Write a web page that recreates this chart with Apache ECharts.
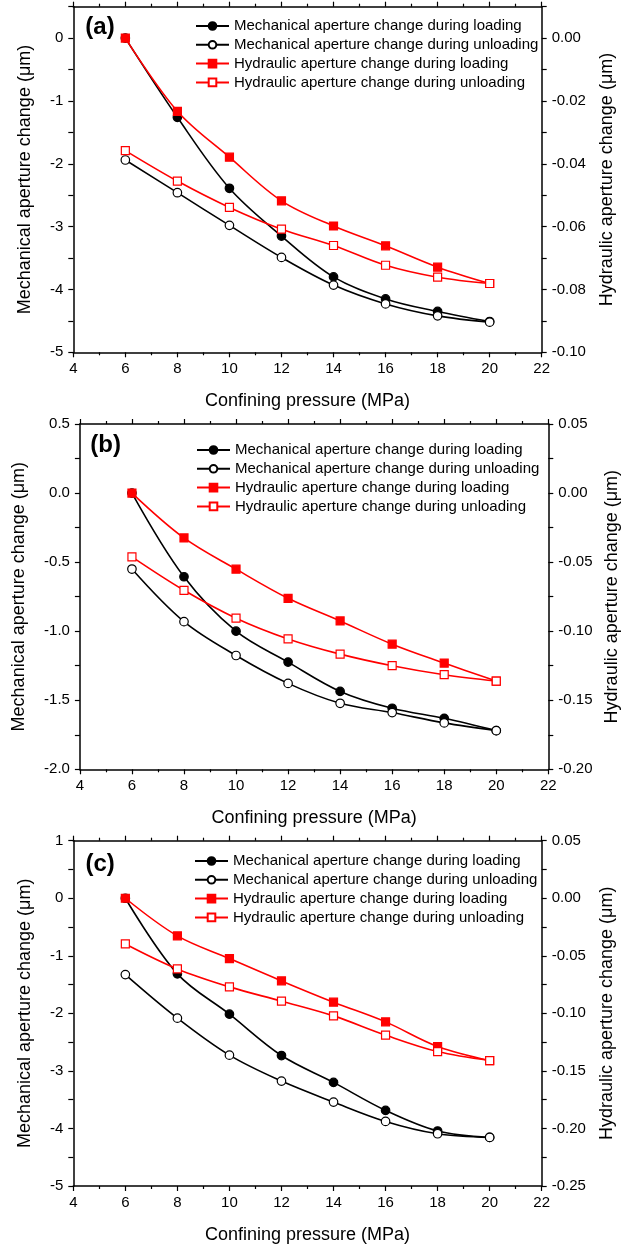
<!DOCTYPE html>
<html>
<head>
<meta charset="utf-8">
<script src="https://cdn.jsdelivr.net/npm/echarts@6/dist/echarts.min.js"></script>
<style>
html,body{margin:0;padding:0;background:#fff;}
#chart{width:632px;height:1247px;}
</style>
</head>
<body>
<div id="chart"></div>
<script>
const pressure = [6, 8, 10, 12, 14, 16, 18, 20];
const seriesNames = [
  'Mechanical aperture change during loading',
  'Mechanical aperture change during unloading',
  'Hydraulic aperture change during loading',
  'Hydraulic aperture change during unloading'
];
const xTitle = 'Confining pressure (MPa)';
const yLeftTitle = 'Mechanical aperture change (\u03bcm)';
const yRightTitle = 'Hydraulic aperture change (\u03bcm)';
const panelLabels = ['(a)', '(b)', '(c)'];

// panel (a)
const mechLoadA   = [0, -1.26, -2.39, -3.15, -3.80, -4.15, -4.35, -4.51];
const mechUnloadA = [-1.94, -2.46, -2.98, -3.49, -3.93, -4.23, -4.42, -4.52];
const hydLoadA    = [0, -0.0233, -0.0379, -0.0518, -0.0598, -0.0661, -0.0729, -0.0781];
const hydUnloadA  = [-0.0358, -0.0455, -0.0539, -0.0608, -0.0660, -0.0723, -0.0761, -0.0781];
// panel (b)
const mechLoadB   = [0, -0.606, -1.00, -1.224, -1.436, -1.558, -1.631, -1.72];
const mechUnloadB = [-0.55, -0.931, -1.176, -1.378, -1.522, -1.589, -1.664, -1.72];
const hydLoadB    = [0, -0.0325, -0.0551, -0.0762, -0.0926, -0.1094, -0.1231, -0.1361];
const hydUnloadB  = [-0.0462, -0.0704, -0.0906, -0.1056, -0.1166, -0.1250, -0.1315, -0.1361];
// panel (c)
const mechLoadC   = [0, -1.314, -2.014, -2.733, -3.20, -3.687, -4.045, -4.156];
const mechUnloadC = [-1.326, -2.083, -2.726, -3.177, -3.542, -3.878, -4.092, -4.156];
const hydLoadC    = [0, -0.0327, -0.0524, -0.0718, -0.0903, -0.1074, -0.1288, -0.141];
const hydUnloadC  = [-0.0397, -0.0614, -0.0770, -0.0894, -0.1022, -0.1189, -0.1332, -0.141];

// axis ranges per panel
const leftAxes = [
  {min: -5, max: 0.5, interval: 0.5, labelStep: 1, decimals: 0},
  {min: -2, max: 0.5, interval: 0.25, labelStep: 0.5, decimals: 1},
  {min: -5, max: 1, interval: 0.5, labelStep: 1, decimals: 0}
];
const rightAxes = [
  {min: -0.10, max: 0.01, interval: 0.01, labelStep: 0.02, decimals: 2},
  {min: -0.20, max: 0.05, interval: 0.025, labelStep: 0.05, decimals: 2},
  {min: -0.25, max: 0.05, interval: 0.025, labelStep: 0.05, decimals: 2}
];

const panelData = [
  [mechLoadA, mechUnloadA, hydLoadA, hydUnloadA],
  [mechLoadB, mechUnloadB, hydLoadB, hydUnloadB],
  [mechLoadC, mechUnloadC, hydLoadC, hydUnloadC]
];

// layout
const grids = [
  {left: 73.3, top: 6.7, width: 468.4, height: 345.6},
  {left: 79.9, top: 424, width: 468.4, height: 345.3},
  {left: 73.3, top: 840.7, width: 468.4, height: 345.3}
];
const legendPos = [{left: 195, top: 18.5}, {left: 196, top: 442.5}, {left: 194, top: 853.5}];
const labelPos = [{x: 100, y: 27.5}, {x: 105.6, y: 445}, {x: 100.2, y: 864}];
const leftNameGap = [39, 52, 39];
const rightNameGap = [56, 55, 56];

const FONT = '"Liberation Sans", Arial, sans-serif';
const axisLineStyle = {color: '#000', width: 1.5};

function stepFormatter(step, decimals) {
  return function (v) {
    const r = v / step;
    if (Math.abs(r - Math.round(r)) < 1e-6) {
      const val = Math.round(r) * step;
      return (Math.abs(val) < 1e-9 ? 0 : val).toFixed(decimals);
    }
    return '';
  };
}

const option = {
  animation: false,
  backgroundColor: '#fff',
  textStyle: {fontFamily: FONT},
  grid: [], xAxis: [], yAxis: [], series: [], legend: [], graphic: []
};

for (let p = 0; p < 3; p++) {
  option.grid.push(Object.assign({containLabel: false}, grids[p]));
  // bottom x axis
  option.xAxis.push({
    type: 'value', gridIndex: p, position: 'bottom', min: 4, max: 22, interval: 2,
    name: xTitle, nameLocation: 'middle', nameGap: 40,
    nameTextStyle: {fontSize: 18, color: '#000', fontFamily: FONT},
    axisLine: {show: true, onZero: false, lineStyle: axisLineStyle},
    axisTick: {show: true, inside: false, length: 5, lineStyle: {color: '#000', width: 1.2}},
    minorTick: {show: true, splitNumber: 2, length: 3, lineStyle: {color: '#000', width: 1.2}},
    axisLabel: {fontSize: 15, color: '#000', margin: 9, fontFamily: FONT},
    splitLine: {show: false}, minorSplitLine: {show: false}
  });
  // top mirror x axis
  option.xAxis.push({
    type: 'value', gridIndex: p, position: 'top', min: 4, max: 22, interval: 2,
    axisLine: {show: true, onZero: false, lineStyle: axisLineStyle},
    axisTick: {show: true, inside: false, length: 5, lineStyle: {color: '#000', width: 1.2}},
    minorTick: {show: true, splitNumber: 2, length: 3, lineStyle: {color: '#000', width: 1.2}},
    axisLabel: {show: false},
    splitLine: {show: false}
  });
  const la = leftAxes[p], ra = rightAxes[p];
  option.yAxis.push({
    type: 'value', gridIndex: p, position: 'left', min: la.min, max: la.max, interval: la.interval,
    name: yLeftTitle, nameLocation: 'middle', nameGap: leftNameGap[p],
    nameTextStyle: {fontSize: 18, color: '#000', fontFamily: FONT},
    axisLine: {show: true, onZero: false, lineStyle: axisLineStyle},
    axisTick: {show: true, inside: false, length: 5, lineStyle: {color: '#000', width: 1.2}},
    axisLabel: {fontSize: 15, color: '#000', margin: 10, fontFamily: FONT,
      formatter: stepFormatter(la.labelStep, la.decimals), showMaxLabel: true, showMinLabel: true},
    splitLine: {show: false}
  });
  option.yAxis.push({
    type: 'value', gridIndex: p, position: 'right', min: ra.min, max: ra.max, interval: ra.interval,
    name: yRightTitle, nameLocation: 'middle', nameGap: rightNameGap[p],
    nameTextStyle: {fontSize: 18, color: '#000', fontFamily: FONT},
    axisLine: {show: true, onZero: false, lineStyle: axisLineStyle},
    axisTick: {show: true, inside: false, length: 5, lineStyle: {color: '#000', width: 1.2}},
    axisLabel: {fontSize: 15, color: '#000', margin: 10, fontFamily: FONT,
      formatter: stepFormatter(ra.labelStep, ra.decimals)},
    splitLine: {show: false}
  });

  const styles = [
    {color: '#000', symbol: 'circle', fill: '#000', y: 0},
    {color: '#000', symbol: 'circle', fill: '#fff', y: 0},
    {color: '#ff0000', symbol: 'rect', fill: '#ff0000', y: 1},
    {color: '#ff0000', symbol: 'rect', fill: '#fff', y: 1}
  ];
  for (let s = 0; s < 4; s++) {
    const st = styles[s];
    option.series.push({
      type: 'line', name: seriesNames[s],
      xAxisIndex: p * 2, yAxisIndex: p * 2 + st.y,
      data: pressure.map((x, i) => [x, panelData[p][s][i]]),
      smooth: 0.35,
      symbol: st.symbol, symbolSize: st.symbol === 'rect' ? 8 : 8.5,
      lineStyle: {color: st.color, width: 1.6},
      itemStyle: {color: st.fill, borderColor: st.color, borderWidth: 1.2},
      z: 2 + s
    });
  }

  option.legend.push({
    orient: 'vertical', left: legendPos[p].left, top: legendPos[p].top,
    padding: 0,
    itemWidth: 33, itemHeight: 9.5, itemGap: 3.8,
    textStyle: {fontSize: 15, color: '#000', fontFamily: FONT, padding: [0, 0, 0, 0]},
    data: seriesNames.slice(), selectedMode: false
  });

  option.graphic.push({
    type: 'text', x: labelPos[p].x, y: labelPos[p].y,
    style: {text: panelLabels[p], font: 'bold 24px ' + FONT, fill: '#000',
      textAlign: 'center', textVerticalAlign: 'middle'}
  });
}

const chart = echarts.init(document.getElementById('chart'), null, {renderer: 'canvas'});
chart.setOption(option);
</script>
</body>
</html>
